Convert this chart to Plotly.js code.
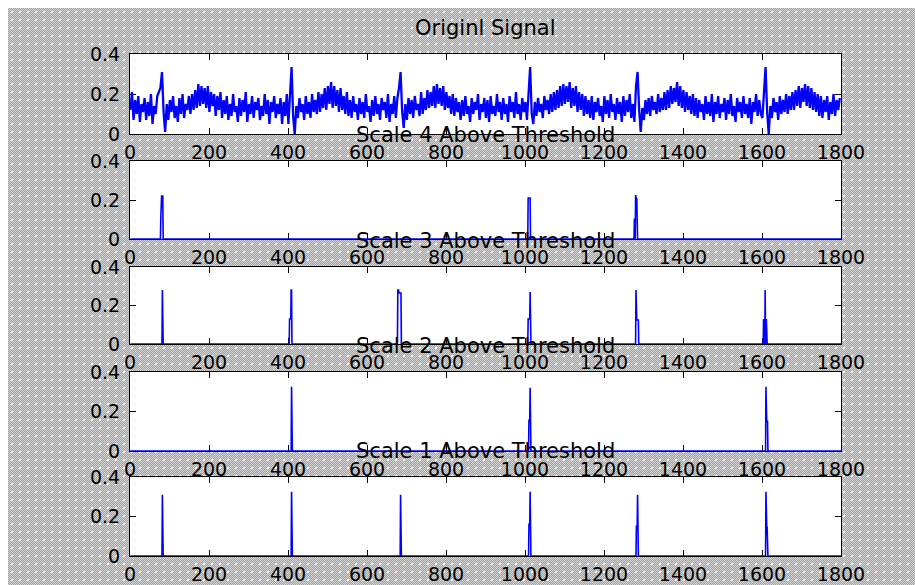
<!DOCTYPE html>
<html><head><meta charset="utf-8">
<script src="https://cdn.plot.ly/plotly-3.0.1.min.js"></script>
<style>
html,body{margin:0;padding:0;background:#fff;}
#wrap{position:relative;width:915px;height:585px;overflow:hidden;background:#fff;}
#hatch{position:absolute;left:8px;top:8px;right:0;bottom:0;background-color:#bdbdbd;
background-image:radial-gradient(circle at 50% 50%, #f4f4f4 0px, #f4f4f4 0.8px, rgba(255,255,255,0) 1.5px), repeating-conic-gradient(#a2a2a2 0% 25%, #d4d4d4 0% 50%);
background-size:8px 8px, 2px 2px;}
#chart{position:absolute;left:0;top:0;width:915px;height:585px;}
</style></head>
<body><div id="wrap"><div id="hatch"></div><div id="chart"></div></div>
<script>
// ---- data ----
const titles = ["Originl Signal", "Scale 4 Above Threshold", "Scale 3 Above Threshold", "Scale 2 Above Threshold", "Scale 1 Above Threshold"];
const xTickVals = [0, 200, 400, 600, 800, 1000, 1200, 1400, 1600, 1800];
const yTickVals = [0, 0.2, 0.4];
const yTickText = ["0", "0.2", "0.4"];
const signalLength = 1800;
const origStep = 4; // original signal read every 4 samples
const origSignal = [
0.12,0.21,0.07,0.17,0.10,0.19,0.06,0.15,0.11,0.18,
0.07,0.16,0.09,0.20,0.05,0.14,0.10,0.19,0.21,0.23,
0.31,0.11,0.01,0.15,0.07,0.17,0.11,0.19,0.08,0.14,
0.06,0.18,0.10,0.20,0.08,0.15,0.12,0.19,0.10,0.20,
0.12,0.22,0.13,0.25,0.14,0.24,0.15,0.23,0.13,0.24,
0.11,0.21,0.14,0.20,0.09,0.19,0.12,0.21,0.08,0.17,
0.10,0.19,0.07,0.15,0.09,0.20,0.11,0.14,0.06,0.18,
0.09,0.17,0.11,0.21,0.06,0.15,0.10,0.19,0.08,0.16,
0.12,0.18,0.07,0.14,0.09,0.20,0.10,0.17,0.05,0.16,
0.11,0.19,0.08,0.15,0.10,0.18,0.05,0.16,0.09,0.20,
0.05,0.22,0.335,0.09,0.00,0.14,0.08,0.18,0.11,0.15,
0.07,0.19,0.10,0.16,0.08,0.20,0.11,0.17,0.10,0.21,
0.11,0.20,0.13,0.23,0.12,0.24,0.15,0.26,0.13,0.24,
0.14,0.22,0.11,0.23,0.12,0.19,0.10,0.21,0.09,0.17,
0.08,0.19,0.11,0.15,0.07,0.18,0.10,0.16,0.08,0.20,
0.11,0.14,0.06,0.17,0.09,0.19,0.10,0.15,0.07,0.18,
0.12,0.16,0.08,0.20,0.06,0.15,0.10,0.19,0.08,0.18,
0.23,0.31,0.11,0.03,0.15,0.07,0.18,0.10,0.17,0.08,
0.19,0.12,0.15,0.09,0.21,0.10,0.18,0.12,0.22,0.13,
0.21,0.14,0.24,0.13,0.25,0.15,0.23,0.14,0.24,0.12,
0.21,0.13,0.19,0.10,0.20,0.09,0.18,0.11,0.16,0.07,
0.17,0.09,0.19,0.10,0.14,0.06,0.18,0.10,0.16,0.12,
0.20,0.07,0.15,0.11,0.18,0.08,0.17,0.06,0.19,0.10,
0.14,0.09,0.20,0.11,0.16,0.07,0.18,0.10,0.15,0.06,
0.19,0.11,0.16,0.08,0.21,0.10,0.15,0.07,0.18,0.11,
0.16,0.07,0.19,0.335,0.10,0.05,0.16,0.09,0.18,0.11,
0.15,0.08,0.19,0.12,0.17,0.10,0.20,0.11,0.21,0.12,
0.22,0.13,0.24,0.14,0.25,0.15,0.24,0.16,0.26,0.13,
0.23,0.14,0.24,0.11,0.21,0.12,0.20,0.09,0.19,0.10,
0.17,0.08,0.19,0.07,0.16,0.11,0.18,0.09,0.14,0.06,
0.19,0.10,0.17,0.08,0.20,0.11,0.15,0.07,0.18,0.10,
0.16,0.06,0.19,0.09,0.17,0.11,0.20,0.08,0.15,0.06,
0.24,0.31,0.12,0.01,0.13,0.07,0.17,0.10,0.18,0.09,
0.19,0.12,0.16,0.10,0.20,0.11,0.18,0.12,0.21,0.12,
0.22,0.13,0.24,0.15,0.23,0.16,0.26,0.14,0.24,0.13,
0.22,0.11,0.21,0.12,0.19,0.10,0.20,0.09,0.18,0.08,
0.17,0.11,0.15,0.07,0.19,0.10,0.16,0.09,0.20,0.06,
0.16,0.10,0.19,0.08,0.15,0.11,0.18,0.07,0.17,0.10,
0.20,0.09,0.14,0.06,0.18,0.11,0.16,0.08,0.19,0.10,
0.15,0.08,0.18,0.05,0.16,0.11,0.20,0.09,0.17,0.10,
0.08,0.22,0.335,0.11,0.00,0.14,0.08,0.18,0.11,0.16,
0.07,0.19,0.10,0.17,0.11,0.20,0.10,0.19,0.12,0.21,
0.12,0.22,0.14,0.24,0.13,0.23,0.16,0.25,0.14,0.24,
0.13,0.23,0.12,0.21,0.11,0.20,0.09,0.19,0.08,0.17,
0.11,0.19,0.07,0.16,0.10,0.20,0.09,0.17,0.12,0.18
];
// thresholded coefficients: sample index and value where above threshold (zero elsewhere)
const scale4Idx = [78, 79, 80, 81, 82, 83, 1008, 1009, 1010, 1011, 1012, 1013, 1277, 1280, 1281, 1282, 1283];
const scale4Val = [0.11, 0.22, 0.22, 0.22, 0.22, 0.22, 0.21, 0.21, 0.21, 0.21, 0.21, 0.21, 0.105, 0.225, 0.205, 0.205, 0.205];
const scale3Idx = [82, 404, 405, 406, 407, 408, 409, 678, 679, 680, 681, 682, 683, 684, 685, 686, 1008, 1009, 1010, 1011, 1012, 1013, 1281, 1282, 1283, 1284, 1285, 1286, 1287, 1604, 1608, 1611];
const scale3Val = [0.28, 0.13, 0.13, 0.13, 0.13, 0.28, 0.28, 0.28, 0.28, 0.28, 0.265, 0.265, 0.265, 0.265, 0.265, 0.265, 0.13, 0.13, 0.13, 0.13, 0.13, 0.27, 0.28, 0.125, 0.125, 0.125, 0.125, 0.125, 0.125, 0.13, 0.28, 0.13];
const scale2Idx = [409, 1010, 1011, 1012, 1013, 1610, 1611, 1612, 1613, 1614];
const scale2Val = [0.325, 0.155, 0.155, 0.155, 0.32, 0.325, 0.15, 0.15, 0.15, 0.15];
const scale1Idx = [82, 409, 685, 1010, 1011, 1012, 1013, 1282, 1283, 1284, 1285, 1610, 1611, 1612, 1613];
const scale1Val = [0.31, 0.325, 0.31, 0.16, 0.16, 0.16, 0.325, 0.15, 0.15, 0.15, 0.31, 0.325, 0.145, 0.145, 0.145];

// ---- build ----
function dense(idx, val) {
  const y = new Array(signalLength).fill(0);
  const x = [];
  for (let i = 0; i < signalLength; i++) x.push(i + 1);
  idx.forEach((k, j) => { y[k - 1] = val[j]; });
  return {x, y};
}
const origX = origSignal.map((v, i) => i * origStep + 1);
const series = [
  {x: origX, y: origSignal},
  dense(scale4Idx, scale4Val),
  dense(scale3Idx, scale3Val),
  dense(scale2Idx, scale2Val),
  dense(scale1Idx, scale1Val)
];

const W = 915, H = 585;
const plotLeft = 130, plotRight = 841;
const plotTop = [54, 161, 267, 372, 477];
const plotBottom = [134, 239, 344, 451, 556];
const font = {family: "DejaVu Sans", size: 19, color: "#000"};

const data = [];
const layout = {
  width: W, height: H,
  margin: {l: 0, r: 0, t: 0, b: 0},
  paper_bgcolor: "rgba(0,0,0,0)",
  plot_bgcolor: "#ffffff",
  showlegend: false,
  annotations: []
};
series.forEach((s, i) => {
  const n = i === 0 ? "" : String(i + 1);
  data.push({
    type: "scatter", mode: "lines", x: s.x, y: s.y,
    xaxis: "x" + n, yaxis: "y" + n,
    line: {color: "#0000ff", width: i === 0 ? 2.3 : 1.6},
    hoverinfo: "skip"
  });
  layout["xaxis" + n] = {
    domain: [plotLeft / W, plotRight / W],
    anchor: "y" + n, range: [0, 1800],
    tickmode: "array", tickvals: xTickVals,
    ticks: "inside", ticklen: 6, tickwidth: 1, tickcolor: "#000",
    showline: true, linecolor: "#000", linewidth: 1, mirror: "ticks",
    showgrid: false, zeroline: false, tickfont: font,
    ticklabelstandoff: 1, layer: "below traces", fixedrange: true
  };
  layout["yaxis" + n] = {
    domain: [1 - plotBottom[i] / H, 1 - plotTop[i] / H],
    anchor: "x" + n, range: [0, 0.4],
    tickmode: "array", tickvals: yTickVals, ticktext: yTickText,
    ticks: "inside", ticklen: 6, tickwidth: 1, tickcolor: "#000",
    showline: true, linecolor: "#000", linewidth: 1, mirror: "ticks",
    showgrid: false, zeroline: false, tickfont: font,
    ticklabelstandoff: 5, layer: "below traces", fixedrange: true
  };
  layout.annotations.push({
    xref: "paper", yref: "paper",
    x: (plotLeft + plotRight) / 2 / W, y: 1 - (plotTop[i] - 26) / H,
    xanchor: "center", yanchor: "middle",
    text: titles[i], showarrow: false,
    font: {family: "DejaVu Sans", size: 21, color: "#000"}
  });
});
Plotly.newPlot("chart", data, layout, {staticPlot: true, displayModeBar: false});
</script></body></html>
